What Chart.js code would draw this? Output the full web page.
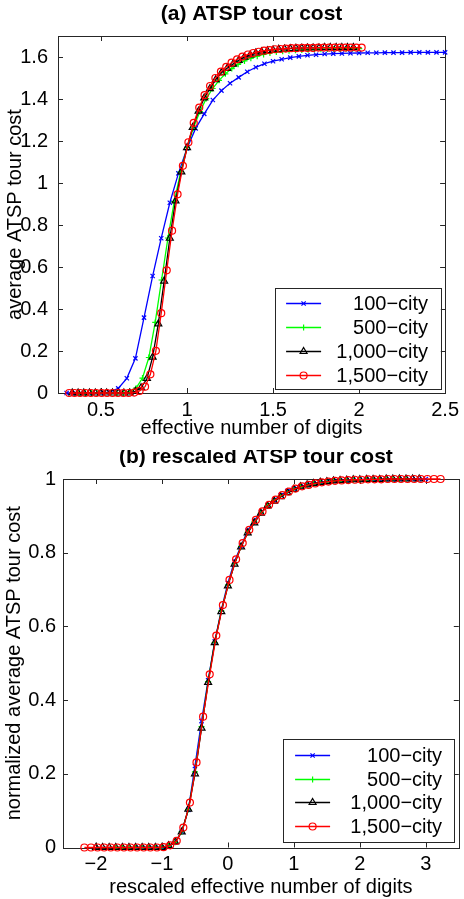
<!DOCTYPE html>
<html>
<head>
<meta charset="utf-8">
<script src="https://cdn.jsdelivr.net/npm/chart.js@4.4.1/dist/chart.umd.min.js"></script>
<style>
  html, body { margin: 0; padding: 0; background: #fff; }
  canvas { position: absolute; left: 0; }
  #chartA { top: 0; }
  #chartB { top: 450px; }
</style>
</head>
<body>
<canvas id="chartA" width="464" height="450"></canvas>
<canvas id="chartB" width="464" height="449"></canvas>
<script>
// (a) ATSP tour cost -- x: effective number of digits
const xA100 = [0.30, 0.35, 0.40, 0.45, 0.50, 0.55, 0.60, 0.65, 0.70, 0.75, 0.80, 0.85, 0.90, 0.95, 1.00, 1.05, 1.10, 1.15, 1.20, 1.25, 1.30, 1.35, 1.40, 1.45, 1.50, 1.55, 1.60, 1.65, 1.70, 1.75, 1.80, 1.85, 1.90, 1.95, 2.00, 2.05, 2.10, 2.15, 2.20, 2.25, 2.30, 2.35, 2.40, 2.45, 2.50];
const yA100 = [0, 0, 0, 0, 0, 0.004, 0.022, 0.070, 0.165, 0.359, 0.557, 0.737, 0.906, 1.046, 1.165, 1.260, 1.329, 1.395, 1.440, 1.475, 1.503, 1.530, 1.551, 1.568, 1.580, 1.589, 1.597, 1.603, 1.608, 1.611, 1.614, 1.616, 1.617, 1.618, 1.619, 1.620, 1.620, 1.621, 1.621, 1.621, 1.622, 1.622, 1.622, 1.622, 1.622];

const xA500 = [0.371, 0.408, 0.445, 0.482, 0.519, 0.556, 0.593, 0.630, 0.667, 0.704, 0.741, 0.778, 0.815, 0.852, 0.889, 0.926, 0.963, 1.000, 1.037, 1.075, 1.112, 1.149, 1.186, 1.223, 1.260, 1.297, 1.334, 1.371, 1.408, 1.445, 1.482, 1.519, 1.556, 1.593, 1.630, 1.667, 1.704, 1.741, 1.778, 1.816, 1.853, 1.890, 1.927, 1.964, 2.001];
const yA500 = [0, 0, 0, 0, 0, 0, 0, 0, 0.007, 0.023, 0.071, 0.169, 0.336, 0.538, 0.738, 0.912, 1.053, 1.168, 1.263, 1.340, 1.402, 1.450, 1.489, 1.520, 1.545, 1.565, 1.581, 1.594, 1.604, 1.612, 1.619, 1.624, 1.627, 1.630, 1.632, 1.633, 1.635, 1.637, 1.637, 1.638, 1.638, 1.638, 1.640, 1.640, 1.640];

const xA1000 = [0.333, 0.367, 0.400, 0.433, 0.467, 0.500, 0.533, 0.567, 0.600, 0.633, 0.667, 0.700, 0.733, 0.767, 0.800, 0.833, 0.867, 0.900, 0.933, 0.967, 1.000, 1.033, 1.067, 1.100, 1.133, 1.167, 1.200, 1.233, 1.267, 1.300, 1.333, 1.367, 1.400, 1.433, 1.467, 1.500, 1.533, 1.567, 1.600, 1.633, 1.667, 1.700, 1.733, 1.767, 1.800, 1.833, 1.867, 1.900, 1.933, 1.967];
const yA1000 = [0, 0, 0, 0, 0, 0, 0, 0, 0, 0, 0, 0.008, 0.025, 0.069, 0.171, 0.329, 0.533, 0.737, 0.915, 1.053, 1.168, 1.265, 1.342, 1.405, 1.449, 1.492, 1.525, 1.546, 1.566, 1.584, 1.599, 1.610, 1.619, 1.625, 1.630, 1.633, 1.637, 1.638, 1.640, 1.642, 1.642, 1.643, 1.643, 1.643, 1.645, 1.645, 1.645, 1.645, 1.645, 1.645];

const xA1500 = [0.315, 0.346, 0.378, 0.409, 0.441, 0.472, 0.504, 0.535, 0.567, 0.598, 0.630, 0.661, 0.693, 0.724, 0.756, 0.787, 0.819, 0.850, 0.882, 0.913, 0.945, 0.976, 1.008, 1.039, 1.071, 1.102, 1.134, 1.165, 1.197, 1.228, 1.259, 1.291, 1.322, 1.354, 1.385, 1.417, 1.448, 1.480, 1.511, 1.543, 1.574, 1.606, 1.637, 1.669, 1.700, 1.732, 1.763, 1.795, 1.826, 1.858, 1.889, 1.921, 1.952, 1.984, 2.015];
const yA1500 = [0, 0, 0, 0, 0, 0, 0, 0, 0, 0, 0, 0, 0.002, 0.010, 0.030, 0.089, 0.201, 0.380, 0.584, 0.773, 0.946, 1.082, 1.194, 1.286, 1.359, 1.418, 1.462, 1.500, 1.530, 1.553, 1.573, 1.589, 1.602, 1.612, 1.619, 1.625, 1.630, 1.633, 1.637, 1.638, 1.640, 1.642, 1.642, 1.643, 1.643, 1.643, 1.645, 1.645, 1.645, 1.645, 1.645, 1.645, 1.645, 1.645, 1.645];

// (b) rescaled ATSP tour cost -- x: rescaled effective number of digits
const xB100 = [-1.4, -1.3, -1.2, -1.1, -1.0, -0.9, -0.8, -0.7, -0.6, -0.5, -0.4, -0.3, -0.2, -0.1, 0.0, 0.1, 0.2, 0.3, 0.4, 0.5, 0.6, 0.7, 0.8, 0.9, 1.0, 1.1, 1.2, 1.3, 1.4, 1.5, 1.6, 1.7, 1.8, 1.9, 2.0, 2.1, 2.2, 2.3, 2.4, 2.5, 2.6, 2.7, 2.8, 2.9, 3.0];
const yB100 = [0, 0, 0, 0, 0, 0.002, 0.014, 0.043, 0.102, 0.221, 0.343, 0.454, 0.559, 0.645, 0.718, 0.777, 0.819, 0.860, 0.888, 0.909, 0.927, 0.943, 0.956, 0.967, 0.974, 0.980, 0.985, 0.988, 0.991, 0.993, 0.995, 0.996, 0.997, 0.998, 0.998, 0.999, 0.999, 0.999, 0.999, 0.999, 1.0, 1.0, 1.0, 1.0, 1.0];

const xB500 = [-1.7, -1.6, -1.5, -1.4, -1.3, -1.2, -1.1, -1.0, -0.9, -0.8, -0.7, -0.6, -0.5, -0.4, -0.3, -0.2, -0.1, 0.0, 0.1, 0.2, 0.3, 0.4, 0.5, 0.6, 0.7, 0.8, 0.9, 1.0, 1.1, 1.2, 1.3, 1.4, 1.5, 1.6, 1.7, 1.8, 1.9, 2.0, 2.1, 2.2, 2.3, 2.4, 2.5, 2.6, 2.7];
const yB500 = [0, 0, 0, 0, 0, 0, 0, 0, 0.004, 0.014, 0.043, 0.103, 0.205, 0.328, 0.450, 0.556, 0.642, 0.712, 0.770, 0.817, 0.855, 0.884, 0.908, 0.927, 0.942, 0.954, 0.964, 0.972, 0.978, 0.983, 0.987, 0.990, 0.992, 0.994, 0.995, 0.996, 0.997, 0.998, 0.998, 0.999, 0.999, 0.999, 1.0, 1.0, 1.0];

const xB1000 = [-2.0, -1.9, -1.8, -1.7, -1.6, -1.5, -1.4, -1.3, -1.2, -1.1, -1.0, -0.9, -0.8, -0.7, -0.6, -0.5, -0.4, -0.3, -0.2, -0.1, 0.0, 0.1, 0.2, 0.3, 0.4, 0.5, 0.6, 0.7, 0.8, 0.9, 1.0, 1.1, 1.2, 1.3, 1.4, 1.5, 1.6, 1.7, 1.8, 1.9, 2.0, 2.1, 2.2, 2.3, 2.4, 2.5, 2.6, 2.7, 2.8, 2.9];
const yB1000 = [0, 0, 0, 0, 0, 0, 0, 0, 0, 0, 0, 0.005, 0.015, 0.042, 0.104, 0.200, 0.324, 0.448, 0.556, 0.640, 0.710, 0.769, 0.816, 0.854, 0.881, 0.907, 0.927, 0.940, 0.952, 0.963, 0.972, 0.979, 0.984, 0.988, 0.991, 0.993, 0.995, 0.996, 0.997, 0.998, 0.998, 0.999, 0.999, 0.999, 1.0, 1.0, 1.0, 1.0, 1.0, 1.0];

const xB1500 = [-2.176, -2.076, -1.976, -1.876, -1.776, -1.676, -1.576, -1.476, -1.376, -1.276, -1.176, -1.076, -0.976, -0.876, -0.776, -0.676, -0.576, -0.476, -0.376, -0.276, -0.176, -0.076, 0.024, 0.124, 0.224, 0.324, 0.424, 0.524, 0.624, 0.724, 0.824, 0.924, 1.024, 1.124, 1.224, 1.324, 1.424, 1.524, 1.624, 1.724, 1.824, 1.924, 2.024, 2.124, 2.224, 2.324, 2.424, 2.524, 2.624, 2.724, 2.824, 2.924, 3.024, 3.124, 3.224];
const yB1500 = [0, 0, 0, 0, 0, 0, 0, 0, 0, 0, 0, 0, 0.001, 0.006, 0.018, 0.054, 0.122, 0.231, 0.355, 0.470, 0.575, 0.658, 0.726, 0.782, 0.826, 0.862, 0.889, 0.912, 0.930, 0.944, 0.956, 0.966, 0.974, 0.980, 0.984, 0.988, 0.991, 0.993, 0.995, 0.996, 0.997, 0.998, 0.998, 0.999, 0.999, 0.999, 1.0, 1.0, 1.0, 1.0, 1.0, 1.0, 1.0, 1.0, 1.0];

// tick positions
const xTicksA = [0.5, 1, 1.5, 2, 2.5];
const yTicksA = [0, 0.2, 0.4, 0.6, 0.8, 1, 1.2, 1.4, 1.6];
const xTicksB = [-2, -1, 0, 1, 2, 3];
const yTicksB = [0, 0.2, 0.4, 0.6, 0.8, 1];

const seriesNames = ['100−city', '500−city', '1,000−city', '1,500−city'];
const seriesColors = ['#0000ff', '#00ff00', '#000000', '#ff0000'];
const seriesMarkers = ['crossRot', 'cross', 'triangle', 'circle'];
const markerRadius = [3, 3, 4, 3.5];

Chart.defaults.font.family = '"Liberation Sans", Arial, Helvetica, sans-serif';
Chart.defaults.font.size = 20;
Chart.defaults.color = '#000';

function fmtTick(v) {
    return v < 0 ? '−' + (-v) : String(v);
}

function makeDatasets(xs, ys) {
    return xs.map(function (xArr, s) {
        return {
            label: seriesNames[s],
            data: xArr.map(function (x, i) { return { x: x, y: ys[s][i] }; }),
            showLine: true,
            borderColor: seriesColors[s],
            borderWidth: 1.3,
            pointStyle: seriesMarkers[s],
            pointRadius: markerRadius[s],
            pointHoverRadius: markerRadius[s],
            pointBorderColor: seriesColors[s],
            pointBackgroundColor: 'rgba(0,0,0,0)',
            pointBorderWidth: 1.2,
            tension: 0,
            clip: 8,
            order: 3 - s   // red on top, like the original
        };
    });
}

// draws the old-style axes box with inward ticks, the legend box and the title
function drawMarker(ctx, style, r, x, y) {
    ctx.beginPath();
    if (style === 'circle') {
        ctx.arc(x, y, r, 0, Math.PI * 2);
    } else if (style === 'triangle') {
        for (let k = 0; k < 3; k++) {
            const ang = k * 2 * Math.PI / 3;
            const px = x + Math.sin(ang) * r, py = y - Math.cos(ang) * r;
            if (k === 0) ctx.moveTo(px, py); else ctx.lineTo(px, py);
        }
        ctx.closePath();
    } else if (style === 'cross') {
        ctx.moveTo(x - r, y); ctx.lineTo(x + r, y);
        ctx.moveTo(x, y - r); ctx.lineTo(x, y + r);
    } else {
        const d = r * Math.SQRT1_2;
        ctx.moveTo(x - d, y - d); ctx.lineTo(x + d, y + d);
        ctx.moveTo(x - d, y + d); ctx.lineTo(x + d, y - d);
    }
    ctx.stroke();
}

const matlabFrame = {
    id: 'matlabFrame',
    beforeDatasetsDraw(chart) {
        const { ctx, chartArea: a, scales } = chart;
        ctx.save();
        ctx.strokeStyle = '#262626';
        ctx.lineWidth = 1;
        ctx.beginPath();
        scales.x.ticks.forEach(function (t) {
            const px = Math.round(scales.x.getPixelForValue(t.value)) + 0.5;
            ctx.moveTo(px, a.bottom); ctx.lineTo(px, a.bottom - 5);
            ctx.moveTo(px, a.top); ctx.lineTo(px, a.top + 5);
        });
        scales.y.ticks.forEach(function (t) {
            const py = Math.round(scales.y.getPixelForValue(t.value)) + 0.5;
            ctx.moveTo(a.left, py); ctx.lineTo(a.left + 5, py);
            ctx.moveTo(a.right, py); ctx.lineTo(a.right - 5, py);
        });
        ctx.stroke();
        ctx.strokeRect(Math.round(a.left) + 0.5, Math.round(a.top) + 0.5,
            Math.round(a.right - a.left), Math.round(a.bottom - a.top));
        ctx.restore();
    },
    afterDatasetsDraw(chart, args, opts) {
        const { ctx, chartArea: a } = chart;
        const L = opts.legend;
        const bx = a.right - L.right - L.w, by = a.bottom - L.bottom - L.h;
        ctx.save();
        ctx.fillStyle = '#fff';
        ctx.fillRect(bx, by, L.w, L.h);
        ctx.strokeStyle = '#262626';
        ctx.lineWidth = 1;
        ctx.strokeRect(Math.round(bx) + 0.5, Math.round(by) + 0.5, Math.round(L.w), Math.round(L.h));
        ctx.font = '20px "Liberation Sans", Arial, sans-serif';
        ctx.textAlign = 'right';
        ctx.textBaseline = 'middle';
        seriesNames.forEach(function (name, s) {
            const ry = Math.round(by + L.row0 + s * L.rowStep) + 0.5;
            ctx.strokeStyle = seriesColors[s];
            ctx.lineWidth = 1.3;
            ctx.beginPath();
            ctx.moveTo(bx + L.line0, ry); ctx.lineTo(bx + L.line1, ry);
            ctx.stroke();
            ctx.lineWidth = 1.2;
            drawMarker(ctx, seriesMarkers[s], markerRadius[s], bx + (L.line0 + L.line1) / 2, ry);
            ctx.fillStyle = '#000';
            ctx.fillText(name, bx + L.text, ry + 1);
        });
        ctx.restore();
    },
    afterDraw(chart, args, opts) {
        const { ctx, chartArea: a } = chart;
        ctx.save();
        ctx.font = 'bold 21px "Liberation Sans", Arial, sans-serif';
        ctx.fillStyle = '#000';
        ctx.textAlign = 'center';
        ctx.textBaseline = 'middle';
        ctx.fillText(opts.title, (a.left + a.right) / 2 + opts.titleShift, a.top - 22);
        ctx.restore();
    }
};

function axisOptions(cfg) {
    return {
        x: {
            type: 'linear', min: cfg.xMin, max: cfg.xMax,
            afterBuildTicks: function (s) { s.ticks = cfg.xTicks.map(function (v) { return { value: v }; }); },
            afterFit: function (s) { s.height = cfg.xHeight; },
            grid: { display: false, drawTicks: false },
            border: { display: false },
            ticks: { padding: cfg.xPad, maxRotation: 0, autoSkip: false, callback: fmtTick },
            title: { display: true, text: cfg.xTitle, padding: { top: 0, bottom: cfg.xTitlePad } }
        },
        y: {
            type: 'linear', min: cfg.yMin, max: cfg.yMax,
            afterBuildTicks: function (s) { s.ticks = cfg.yTicks.map(function (v) { return { value: v }; }); },
            afterFit: function (s) { s.width = cfg.yWidth; },
            grid: { display: false, drawTicks: false },
            border: { display: false },
            ticks: { padding: cfg.yPad, autoSkip: false, callback: fmtTick },
            title: { display: true, text: cfg.yTitle, padding: { top: cfg.yTitlePad, bottom: 0 } }
        }
    };
}

new Chart(document.getElementById('chartA').getContext('2d'), {
    type: 'scatter',
    data: { datasets: makeDatasets([xA100, xA500, xA1000, xA1500], [yA100, yA500, yA1000, yA1500]) },
    options: {
        responsive: false,
        animation: false,
        layout: { padding: { left: 0, right: 17, top: 36, bottom: 0 } },
        scales: axisOptions({
            xMin: 0.25, xMax: 2.5, yMin: 0, yMax: 1.7,
            xTicks: xTicksA, yTicks: yTicksA,
            xHeight: 57, yWidth: 58, xPad: 5, yPad: 10, xTitlePad: 10, yTitlePad: 3,
            xTitle: 'effective number of digits', yTitle: 'average ATSP tour cost'
        }),
        plugins: {
            legend: { display: false },
            tooltip: { enabled: false },
            matlabFrame: {
                title: '(a) ATSP tour cost', titleShift: 0,
                legend: { w: 166, h: 101, right: 4.3, bottom: 4, row0: 15, rowStep: 23.9, line0: 11.3, line1: 46.3, text: 153.3 }
            }
        }
    },
    plugins: [matlabFrame]
});

new Chart(document.getElementById('chartB').getContext('2d'), {
    type: 'scatter',
    data: { datasets: makeDatasets([xB100, xB500, xB1000, xB1500], [yB100, yB500, yB1000, yB1500]) },
    options: {
        responsive: false,
        animation: false,
        layout: { padding: { left: 0, right: 2.3, top: 29, bottom: 0 } },
        scales: axisOptions({
            xMin: -2.5, xMax: 3.5, yMin: 0, yMax: 1,
            xTicks: xTicksB, yTicks: yTicksB,
            xHeight: 51.5, yWidth: 63, xPad: 5, yPad: 7, xTitlePad: 0, yTitlePad: 2.5,
            xTitle: 'rescaled effective number of digits', yTitle: 'normalized average ATSP tour cost'
        }),
        plugins: {
            legend: { display: false },
            tooltip: { enabled: false },
            matlabFrame: {
                title: '(b) rescaled ATSP tour cost', titleShift: -5,
                legend: { w: 170.7, h: 103.4, right: 5, bottom: 4.8, row0: 15.7, rowStep: 23.7, line0: 12, line1: 47, text: 159 }
            }
        }
    },
    plugins: [matlabFrame]
});
</script>
</body>
</html>
